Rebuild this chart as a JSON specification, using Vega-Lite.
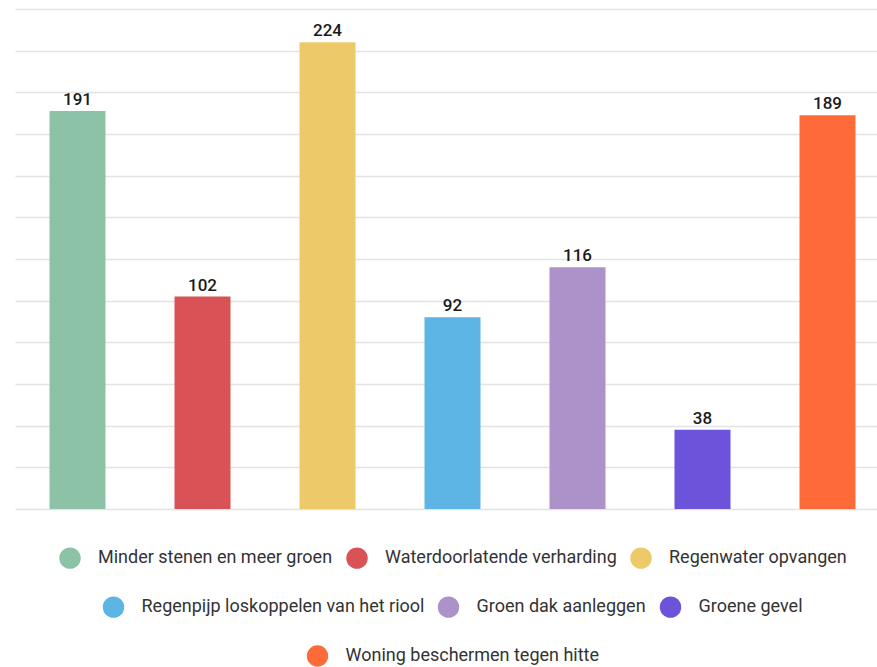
{
  "$schema": "https://vega.github.io/schema/vega-lite/v6.json",
  "width": 875,
  "height": 500,
  "padding": {"left": 15, "top": 9, "right": 0, "bottom": 0},
  "background": "white",
  "data": {
    "values": [
      {"cat": "Minder stenen en meer groen", "value": 191, "row": 1},
      {"cat": "Waterdoorlatende verharding", "value": 102, "row": 1},
      {"cat": "Regenwater opvangen", "value": 224, "row": 1},
      {"cat": "Regenpijp loskoppelen van het riool", "value": 92, "row": 2},
      {"cat": "Groen dak aanleggen", "value": 116, "row": 2},
      {"cat": "Groene gevel", "value": 38, "row": 2},
      {"cat": "Woning beschermen tegen hitte", "value": 189, "row": 3}
    ]
  },
  "encoding": {
    "x": {
      "field": "cat", "type": "nominal", "sort": null,
      "scale": {
        "domain": ["Minder stenen en meer groen", "Waterdoorlatende verharding", "Regenwater opvangen", "Regenpijp loskoppelen van het riool", "Groen dak aanleggen", "Groene gevel", "Woning beschermen tegen hitte"],
        "paddingInner": 0.552, "paddingOuter": 0.276
      },
      "axis": null
    },
    "y": {
      "field": "value", "type": "quantitative",
      "scale": {"domain": [0, 240], "nice": false},
      "axis": {"values": [0,20,40,60,80,100,120,140,160,180,200,220,240], "labels": false, "ticks": false, "domain": false, "title": null, "grid": true, "gridColor": "#e3e3e3", "gridWidth": 1.6}
    }
  },
  "layer": [
    {
      "transform": [{"filter": "datum.row == 1"}],
      "mark": {"type": "bar"},
      "encoding": {
        "color": {
          "field": "cat", "type": "nominal", "sort": null,
          "scale": {"domain": ["Minder stenen en meer groen", "Waterdoorlatende verharding", "Regenwater opvangen"], "range": ["#8cc3a7", "#d95356", "#edc96a"]},
          "legend": {"title": null}
        }
      }
    },
    {
      "transform": [{"filter": "datum.row == 2"}],
      "mark": {"type": "bar"},
      "encoding": {
        "color": {
          "field": "cat", "type": "nominal", "sort": null,
          "scale": {"domain": ["Regenpijp loskoppelen van het riool", "Groen dak aanleggen", "Groene gevel"], "range": ["#5db5e5", "#ad92c9", "#6c53d9"]},
          "legend": {"title": null}
        }
      }
    },
    {
      "transform": [{"filter": "datum.row == 3"}],
      "mark": {"type": "bar"},
      "encoding": {
        "color": {
          "field": "cat", "type": "nominal", "sort": null,
          "scale": {"domain": ["Woning beschermen tegen hitte"], "range": ["#ff6b38"]},
          "legend": {"title": null}
        }
      }
    },
    {
      "mark": {"type": "text", "baseline": "alphabetic", "dy": -6, "font": "Roboto", "fontSize": 17, "fontWeight": 500, "color": "#1a1a1a"},
      "encoding": {"text": {"field": "value", "type": "quantitative"}}
    }
  ],
  "resolve": {"scale": {"color": "independent"}},
  "config": {
    "view": {"stroke": null},
    "legend": {
      "orient": "bottom",
      "direction": "horizontal",
      "symbolType": "circle",
      "symbolSize": 460,
      "symbolStrokeWidth": 0,
      "symbolOpacity": 1,
      "labelFont": "Roboto",
      "labelFontSize": 18,
      "labelColor": "#333333",
      "labelLimit": 0,
      "labelOffset": 17,
      "columnPadding": 13,
      "offset": 38,
      "padding": 0,
      "layout": {"bottom": {"anchor": "middle", "direction": "vertical", "center": true, "margin": 27}}
    }
  }
}
